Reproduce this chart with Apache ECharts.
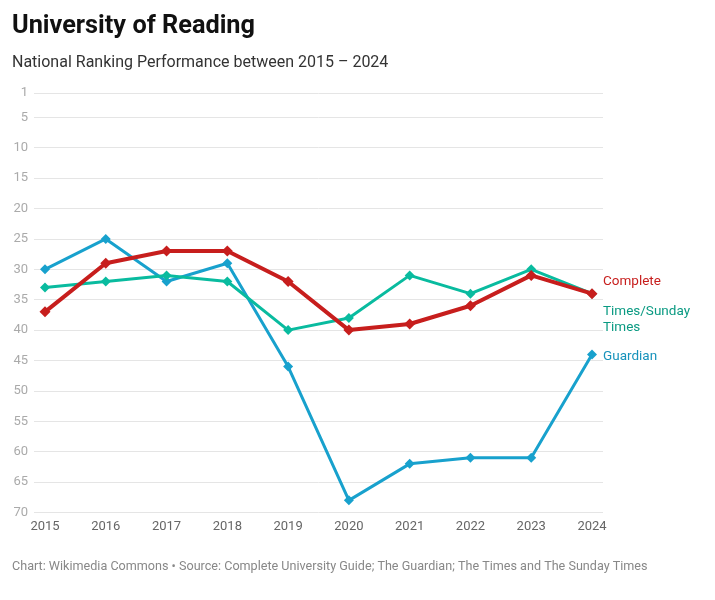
<!DOCTYPE html>
<html>
<head>
<meta charset="utf-8">
<script src="https://cdn.jsdelivr.net/npm/echarts@6/dist/echarts.min.js"></script>
<style>
html,body{margin:0;padding:0;background:#fff;}
#c{width:715px;height:600px;}
</style>
</head>
<body>
<div id="c"></div>
<script>
const years = [2015, 2016, 2017, 2018, 2019, 2020, 2021, 2022, 2023, 2024];
const complete = [37, 29, 27, 27, 32, 40, 39, 36, 31, 34];
const times = [33, 32, 31, 32, 40, 38, 31, 34, 30, 34];
const guardian = [30, 25, 32, 29, 46, 68, 62, 61, 61, 44];
const yTicks = [1, 5, 10, 15, 20, 25, 30, 35, 40, 45, 50, 55, 60, 65, 70];
const seriesNames = ['Complete', 'Times/Sunday\nTimes', 'Guardian'];

const FONT = 'Roboto';
const colors = ['#c71e1d', '#09bb9f', '#18a1cd'];
const labelColors = ['#c71e1d', '#0a9a82', '#1692bb'];
const widths = [4, 3, 3];
const offsets = [[3, -12], [3, 26], [3, 2]];
const dataSets = [complete, times, guardian];

const chart = echarts.init(document.getElementById('c'), null, {renderer: 'canvas'});
const order = [2, 1, 0];
chart.setOption({
  animation: false,
  backgroundColor: '#ffffff',
  title: [
    {text: 'University of Reading', left: 7, top: 9,
     textStyle: {fontFamily: FONT, fontWeight: 'bold', fontSize: 25.3, color: '#111'}},
    {text: 'National Ranking Performance between 2015 – 2024', left: 7, top: 50,
     textStyle: {fontFamily: FONT, fontWeight: 'normal', fontSize: 16, color: '#333'}},
    {text: 'Chart: Wikimedia Commons • Source: Complete University Guide; The Guardian; The Times and The Sunday Times',
     left: 7, top: 555,
     textStyle: {fontFamily: FONT, fontWeight: 'normal', fontSize: 12.6, color: '#888'}}
  ],
  grid: {left: 34, right: 112, top: 93, bottom: 87.5, containLabel: false},
  xAxis: {
    type: 'value', min: 2014.819, max: 2024.181,
    axisLine: {show: false}, axisTick: {show: false}, splitLine: {show: false},
    axisLabel: {customValues: years, color: '#666', fontFamily: FONT, fontSize: 13, margin: 8,
                formatter: v => String(v)}
  },
  yAxis: {
    type: 'value', inverse: true, min: 1, max: 70,
    axisLine: {show: false},
    axisTick: {show: false, customValues: yTicks},
    axisLabel: {customValues: yTicks, color: '#aaa', fontFamily: FONT, fontSize: 13, margin: 6},
    splitLine: {show: true, customValues: yTicks, lineStyle: {color: '#e5e5e5', width: 1}}
  },
  series: order.map(i => ({
    name: seriesNames[i],
    type: 'line',
    data: years.map((y, k) => [y, dataSets[i][k]]),
    symbol: 'diamond',
    symbolSize: i === 0 ? 11 : 10,
    showSymbol: true,
    lineStyle: {color: colors[i], width: widths[i]},
    itemStyle: {color: colors[i]},
    z: 10 - i,
    endLabel: {
      show: true, formatter: seriesNames[i], color: labelColors[i],
      fontFamily: FONT, fontSize: 13.5, lineHeight: 16, offset: offsets[i], align: 'left'
    }
  }))
});
</script>
</body>
</html>
